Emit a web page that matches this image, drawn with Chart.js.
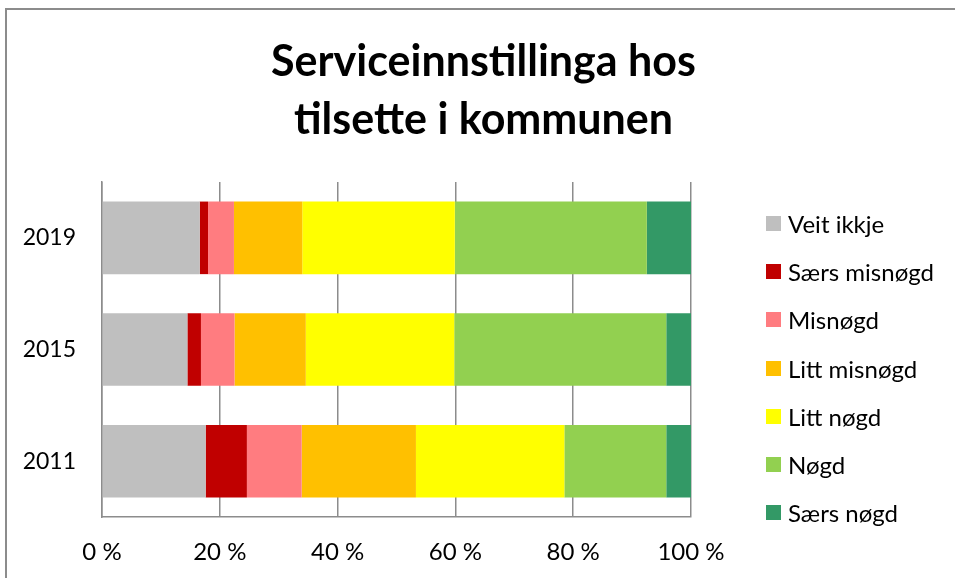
<!DOCTYPE html>
<html>
<head>
<meta charset="utf-8">
<script src="https://cdn.jsdelivr.net/npm/chart.js@4/dist/chart.umd.min.js"></script>
<style>
  html, body { margin: 0; padding: 0; background: #fff; overflow: hidden; }
  #frame { position: absolute; left: 5px; top: 8px; width: 953px; height: 575px; border: 2px solid #8c8c8c; }
  #legend { position: absolute; left: 766px; top: 199px; font-family: Lato, 'Open Sans', sans-serif; font-size: 24px; color: #000; }
  #legend .row { display: flex; align-items: center; height: 48.3px; }
  #legend .sw { width: 15px; height: 15px; margin-right: 7px; flex: none; }
</style>
</head>
<body>
<div id="frame"><canvas id="chart"></canvas></div>
<div id="legend"></div>
<script>
const years = ['2019', '2015', '2011'];
const seriesNames = ['Veit ikkje', 'Særs misnøgd', 'Misnøgd', 'Litt misnøgd', 'Litt nøgd', 'Nøgd', 'Særs nøgd'];
const seriesColors = ['#BFBFBF', '#C00000', '#FF7C80', '#FFC000', '#FFFF00', '#92D050', '#339966'];

// share per answer, in percent, one value per year (2019, 2015, 2011)
const veitIkkje    = [16.6, 14.5, 17.6];
const saersMisnogd = [1.4, 2.3, 7.0];
const misnogd      = [4.4, 5.7, 9.3];
const littMisnogd  = [11.6, 12.1, 19.4];
const littNogd     = [25.9, 25.2, 25.2];
const nogd         = [32.6, 36.0, 17.3];
const saersNogd    = [7.5, 4.2, 4.2];
const xTicks = [0, 20, 40, 60, 80, 100];

const values = [veitIkkje, saersMisnogd, misnogd, littMisnogd, littNogd, nogd, saersNogd];
const FONT = "Lato, 'Open Sans', sans-serif";
const GRID = '#8c8c8c';
const LEGEND_SPACE = 269; // room kept free right of the plot for the legend

const datasets = seriesNames.map((name, i) => ({
  label: name,
  data: values[i],
  backgroundColor: seriesColors[i],
  borderWidth: 0,
  categoryPercentage: 0.65,
  barPercentage: 1
}));

const ctx = document.getElementById('chart');
new Chart(ctx, {
  type: 'bar',
  data: { labels: years, datasets },
  options: {
    indexAxis: 'y',
    responsive: true, maintainAspectRatio: false, animation: false,
    layout: { padding: 0 },
    plugins: {
      legend: { display: false },
      tooltip: { enabled: false },
      title: {
        display: true,
        text: ['Serviceinnstillinga hos', 'tilsette i kommunen'],
        color: '#000',
        font: { family: FONT, size: 43, weight: 'bold', lineHeight: 1.349 },
        padding: { top: 23, bottom: 33 }
      }
    },
    scales: {
      x: {
        stacked: true, min: 0, max: 100,
        afterBuildTicks: s => { s.ticks = xTicks.map(v => ({ value: v })); },
        afterFit: s => { s.height = 68; s.paddingRight = LEGEND_SPACE; },
        grid: { color: GRID, lineWidth: 1.5, drawTicks: false },
        border: { color: GRID, width: 1.5 },
        ticks: { padding: 21, color: '#000', font: { family: FONT, size: 24 }, callback: v => v + ' %' }
      },
      y: {
        stacked: true,
        afterFit: s => { s.width = 95; },
        grid: { display: false, drawTicks: false },
        border: { color: GRID, width: 1.5 },
        ticks: { padding: 26, color: '#000', font: { family: FONT, size: 23 } }
      }
    }
  }
});

// legend next to the plot, built from the same series lists
const legend = document.getElementById('legend');
seriesNames.forEach((name, i) => {
  const row = document.createElement('div');
  row.className = 'row';
  const sw = document.createElement('span');
  sw.className = 'sw';
  sw.style.background = seriesColors[i];
  const txt = document.createElement('span');
  txt.textContent = name;
  row.appendChild(sw);
  row.appendChild(txt);
  legend.appendChild(row);
});
</script>
</body>
</html>
